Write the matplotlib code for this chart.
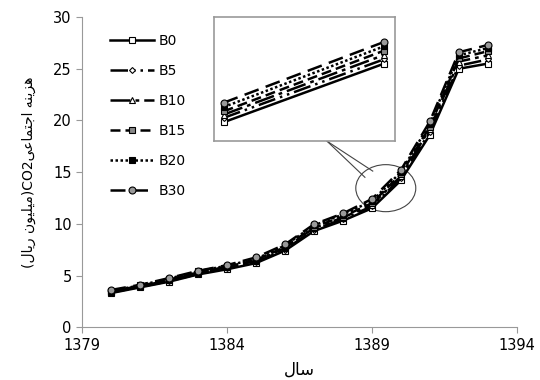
import matplotlib.pyplot as plt
from matplotlib.patches import Ellipse

# years and CO2 social cost (million rial) per scenario
years = list(range(1380, 1394))
b0 = [3.3, 3.85, 4.4, 5.1, 5.6, 6.2, 7.4, 9.3, 10.3, 11.5, 14.2, 18.6, 25.0, 25.5]
b5 = [3.35, 3.9, 4.45, 5.15, 5.7, 6.3, 7.5, 9.45, 10.45, 11.7, 14.4, 18.9, 25.3, 25.9]
b10 = [3.4, 3.95, 4.55, 5.25, 5.8, 6.4, 7.65, 9.6, 10.6, 11.85, 14.6, 19.2, 25.7, 26.3]
b15 = [3.45, 4.0, 4.6, 5.3, 5.85, 6.5, 7.75, 9.7, 10.7, 12.0, 14.8, 19.4, 26.0, 26.7]
b20 = [3.5, 4.05, 4.7, 5.4, 5.95, 6.6, 7.9, 9.85, 10.9, 12.2, 15.0, 19.7, 26.3, 27.0]
b30 = [3.6, 4.1, 4.75, 5.45, 6.0, 6.75, 8.0, 9.95, 11.0, 12.4, 15.2, 19.9, 26.6, 27.3]

series = [("B0", b0), ("B5", b5), ("B10", b10), ("B15", b15), ("B20", b20), ("B30", b30)]
styles = {
    "B0": dict(dashes=(), marker="s", mfc="white", ms=5),
    "B5": dict(dashes=(7, 2, 1, 2, 1, 2), marker="D", mfc="white", ms=3),
    "B10": dict(dashes=(8, 2, 1.5, 2), marker="^", mfc="white", ms=4),
    "B15": dict(dashes=(4, 2), marker="s", mfc="#888888", ms=5),
    "B20": dict(dashes=(1, 1), marker="s", mfc="black", ms=5),
    "B30": dict(dashes=(6, 3), marker="o", mfc="#999999", ms=5),
}

# pre-shaped Persian text (presentation forms, visual order)
ylabel = ("(" + "\uFEDD\uFE8E\uFBFE\uFEAD" + " " + "\uFEE5\uFEEE\uFBFF\uFEE0\uFBFF\uFEE3" + ")"
          + "CO2" + "\uFBFD\uFECB\uFE8E\uFEE4\uFE98\uFE9F\uFE8D" + " " + "\uFEEA\uFEE8\uFBFE\uFEB0\uFEEB")
xlabel = "\uFEDD\uFE8E\uFEB3"

plt.rcParams["font.family"] = ["DejaVu Sans"]

fig = plt.figure(figsize=(5.4, 3.8), dpi=100)
ax = fig.add_axes([0.152, 0.139, 0.805, 0.816])

for name, vals in series:
    st = styles[name]
    ax.plot(years, vals, color="black", lw=1.8, dashes=st["dashes"], marker=st["marker"],
            mfc=st["mfc"], mec="black", ms=st["ms"], mew=0.8, label=name)

ax.set_xlim(1379, 1394)
ax.set_ylim(0, 30)
ax.set_xticks([1379, 1384, 1389, 1394])
ax.set_yticks(range(0, 31, 5))
for s in ["top", "right"]:
    ax.spines[s].set_visible(False)
for s in ["left", "bottom"]:
    ax.spines[s].set_color("#999999")
ax.tick_params(colors="#999999", labelcolor="black", labelsize=10.5, length=4)
ax.set_xlabel(xlabel, fontsize=12, labelpad=6)
ax.set_ylabel(ylabel, fontsize=10, labelpad=12)

ax.legend(loc="upper left", bbox_to_anchor=(0.035, 0.985), frameon=False, fontsize=10,
          handlelength=3.2, labelspacing=1.15, handletextpad=0.3)

# zoom ellipse and callout
ax.add_patch(Ellipse((1389.48, 13.45), 2.07, 4.55, fill=False, ec="#444444", lw=0.8))
ax.plot([1387.45, 1389.03], [18.0, 15.1], color="#444444", lw=0.8)
ax.plot([1387.45, 1388.76], [18.0, 14.5], color="#444444", lw=0.8)

ins = ax.inset_axes([1383.55, 18.0, 6.25, 12.0], transform=ax.transData)
zoom = slice(9, 11)
for name, vals in series:
    st = styles[name]
    ins.plot(years[zoom], vals[zoom], color="black", lw=1.8, dashes=st["dashes"],
             marker=st["marker"], mfc=st["mfc"], mec="black", ms=st["ms"], mew=0.8)
ins.set_xlim(1388.94, 1390.07)
ins.set_ylim(10.63, 16.35)
ins.set_xticks([])
ins.set_yticks([])
for s in ins.spines.values():
    s.set_color("#999999")
    s.set_linewidth(1.2)

fig.savefig("out.png", dpi=100)
